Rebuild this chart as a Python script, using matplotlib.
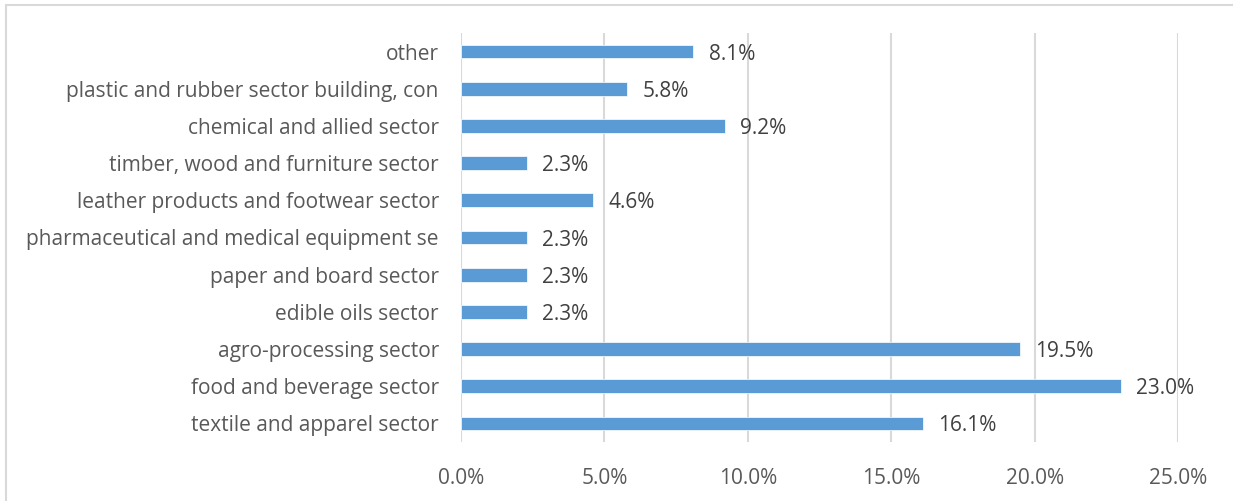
import matplotlib.pyplot as plt
from matplotlib.patches import Rectangle

plt.rcParams['font.family'] = ['Open Sans', 'DejaVu Sans']

sectors = ['textile and apparel sector',
           'food and beverage sector',
           'agro-processing sector',
           'edible oils sector',
           'paper and board sector',
           'pharmaceutical and medical equipment se',
           'leather products and footwear sector',
           'timber, wood and furniture sector',
           'chemical and allied sector',
           'plastic and rubber sector building, con',
           'other']
shares = [16.1, 23.0, 19.5, 2.3, 2.3, 2.3, 4.6, 2.3, 9.2, 5.8, 8.1]
ticks = [0, 5, 10, 15, 20, 25]

text_grey = '#595959'
bar_blue = '#5B9BD5'

fig = plt.figure(figsize=(12.33, 5.01), dpi=100)
ax = fig.add_axes([461 / 1233, 1 - 442 / 501, (1178 - 461) / 1233, (442 - 33) / 501])

ypos = range(len(sectors))
ax.barh(ypos, shares, height=0.37, color=bar_blue, edgecolor='white',
        linewidth=0.5, zorder=3)
for y, v in zip(ypos, shares):
    ax.annotate(f'{v:.1f}%', (v, y), xytext=(11, 0), textcoords='offset points',
                va='center_baseline', ha='left', fontsize=15, color='#404040')

ax.set_xlim(0, 25)
ax.set_ylim(-0.5, len(sectors) - 0.5)
ax.set_xticks(ticks)
ax.set_xticklabels([f'{t:.1f}%' for t in ticks])
ax.set_yticks(list(ypos))
ax.set_yticklabels(sectors, va='center_baseline')
ax.tick_params(axis='both', length=0, labelsize=15, labelcolor=text_grey)
ax.tick_params(axis='x', pad=19)
ax.tick_params(axis='y', pad=16)
ax.grid(axis='x', color='#D9D9D9', linewidth=1.5, zorder=0)
for s in ax.spines.values():
    s.set_visible(False)

# thin frame around the chart area
fig.patches.append(Rectangle((6 / 1233, -0.1), 1.2, 1 - 5 / 501 + 0.1,
                             transform=fig.transFigure, fill=False,
                             edgecolor='#D9D9D9', linewidth=1.5))

fig.savefig('out.png', dpi=100)
